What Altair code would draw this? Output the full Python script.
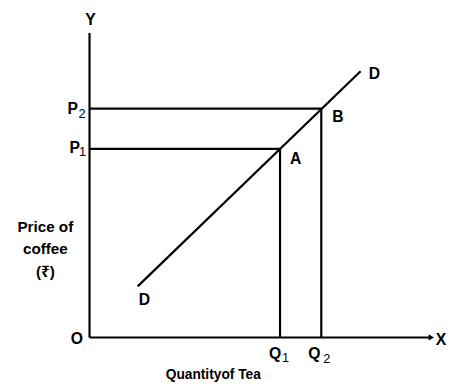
import altair as alt
import pandas as pd

# ---- values (schematic units) ----
Q1, Q2 = 19.4, 23.6          # quantities of tea
P1, P2 = 19.2, 23.3          # prices of coffee
d_x = [4.9, 27.6]            # demand (cross) curve DD
d_y = [5.2, 27.1]
x_axis_end, y_axis_top = 34.6, 31.0

# label texts and positions
lab_text = ["Y", "X", "O", "P", "P", "A", "B", "D", "D", "Q", "Q"]
lab_x    = [0.1, 35.8, -1.3, -1.7, -1.5, 21.0, 25.3, 29.0, 5.6, 18.9, 22.9]
lab_y    = [32.3, -0.3, -0.2, 23.3, 19.3, 18.2, 22.4, 26.85, 3.8, -1.7, -1.7]
sub_text = ["2", "1", "1", "2"]
sub_x    = [-0.75, -0.7, 19.95, 24.15]
sub_y    = [22.7, 18.85, -2.1, -2.2]
title_text, title_x, title_y = ["Quantityof Tea"], [12.6], [-3.8]
ylab_text = ["Price of", "coffee", "(₹)"]
ylab_x    = [-4.5, -4.5, -4.5]
ylab_y    = [11.2, 9.0, 6.7]

FONT = "Liberation Sans, Arial, Noto Sans, DejaVu Sans"
xs = alt.Scale(domain=[-8.3, 36.4], nice=False, zero=False)
ys = alt.Scale(domain=[-4.8, 33.2], nice=False, zero=False)
X = lambda: alt.X("x:Q", scale=xs, axis=None)
Y = lambda: alt.Y("y:Q", scale=ys, axis=None)

segs = pd.DataFrame({
    "x":  [0, 0, 0, 0, Q1, Q2, d_x[0]],
    "y":  [0, 0, P1, P2, 0, 0, d_y[0]],
    "x2": [x_axis_end, 0, Q1, Q2, Q1, Q2, d_x[1]],
    "y2": [0, y_axis_top, P1, P2, P1, P2, d_y[1]],
})

rules = alt.Chart(segs).mark_rule(color="black", strokeWidth=2.2).encode(
    x=X(), y=Y(), x2="x2:Q", y2="y2:Q",
)

arrow = alt.Chart(pd.DataFrame({"x": [x_axis_end + 0.2], "y": [0]})).mark_point(
    shape="triangle-right", filled=True, color="black", size=40, opacity=1
).encode(x=X(), y=Y())

def texts(t, x, y, size, weight="bold"):
    return alt.Chart(pd.DataFrame({"t": t, "x": x, "y": y})).mark_text(
        font=FONT, fontSize=size, fontWeight=weight, color="black",
        align="center", baseline="middle"
    ).encode(x=X(), y=Y(), text="t:N")

chart = alt.layer(
    rules, arrow,
    texts(lab_text, lab_x, lab_y, 16),
    texts(sub_text, sub_x, sub_y, 13, "normal"),
    texts(title_text, title_x, title_y, 14),
    texts(ylab_text, ylab_x, ylab_y, 15.5),
).properties(
    width=447, height=380, padding=0,
    autosize=alt.AutoSizeParams(type="none"),
).configure_view(stroke=None)

chart.save("out.html", embed_options={"renderer": "svg", "actions": False})
